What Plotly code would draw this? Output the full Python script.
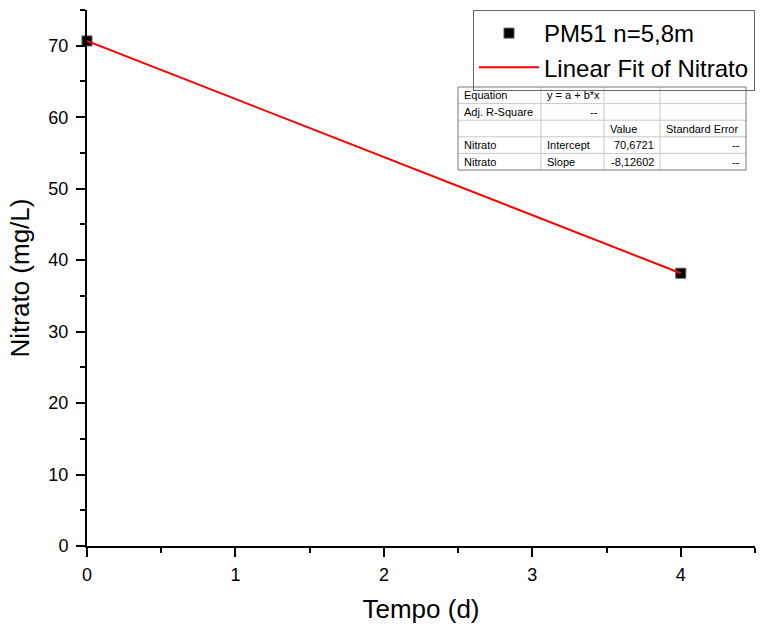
import plotly.graph_objects as go

# Measured nitrate data and linear fit results
tempo = [0, 4]
nitrato = [70.6721, 38.1680]
intercept = 70.6721
slope = -8.12602
x_range = [0, 4.5]
y_range = [0, 75]

series_name = "PM51 n=5,8m"
fit_name = "Linear Fit of Nitrato"

FONT = "Arial, Liberation Sans, sans-serif"

W, H = 761, 636
L, R, T, B = 87, 6, 10, 90
PW, PH = W - L - R, H - T - B


def px(x):
    return (x - L) / PW


def py(y):
    return (H - B - y) / PH


fit_x = list(x_range[:1]) + [tempo[-1]]
fit_y = [intercept + slope * v for v in fit_x]

fig = go.Figure()
fig.add_trace(go.Scatter(
    x=tempo, y=nitrato, mode="markers", name=series_name,
    marker=dict(symbol="square", size=10, color="black",
                line=dict(color="#555", width=1)),
    cliponaxis=False,
))
fig.add_trace(go.Scatter(
    x=fit_x, y=fit_y, mode="lines", name=fit_name,
    line=dict(color="red", width=2), cliponaxis=False,
))

axis_common = dict(
    showline=True, linecolor="black", linewidth=2, mirror=False,
    showgrid=False, zeroline=False, ticks="outside", ticklen=9,
    tickwidth=2, tickcolor="black",
    tickfont=dict(family=FONT, size=18, color="black"),
    minor=dict(ticks="outside", ticklen=5, tickwidth=2, tickcolor="black"),
)

fig.update_xaxes(range=x_range, dtick=1, minor_dtick=0.5, ticklabelstandoff=2,
                 title=dict(text="Tempo (d)", font=dict(family=FONT, size=26, color="black"), standoff=16),
                 **axis_common)
fig.update_yaxes(range=y_range, dtick=10, minor_dtick=5, ticklabelstandoff=4,
                 title=dict(text="Nitrato (mg/L)", font=dict(family=FONT, size=26, color="black"), standoff=11),
                 **axis_common)

fig.update_layout(
    width=W, height=H,
    margin=dict(l=L, r=R, t=T, b=B),
    plot_bgcolor="white", paper_bgcolor="white",
    font=dict(family=FONT, color="black"),
    legend=dict(x=1, y=py(10), xanchor="right", yanchor="top",
                bordercolor="#666", borderwidth=1, bgcolor="rgba(255,255,255,0)",
                font=dict(family=FONT, size=24, color="black"),
                tracegroupgap=0, itemwidth=60),
)

# Fit results table
col_x = [458, 541, 604, 660, 746]
row_top, row_h, n_rows = 87, 16.6, 5
rows = [
    ["Equation", "y = a + b*x", "", ""],
    ["Adj. R-Square", "--", "", ""],
    ["", "", "Value", "Standard Error"],
    ["Nitrato", "Intercept", f"{intercept:.4f}".replace(".", ","), "--"],
    ["Nitrato", "Slope", f"{slope:.5f}".replace(".", ","), "--"],
]
right_cells = {(1, 1), (3, 2), (3, 3), (4, 2), (4, 3)}

shapes = []
table_bottom = row_top + row_h * n_rows
for i in range(1, n_rows):
    yy = row_top + row_h * i
    shapes.append(dict(type="line", xref="paper", yref="paper",
                       x0=px(col_x[0]), x1=px(col_x[-1]), y0=py(yy), y1=py(yy),
                       line=dict(color="#c8c8c8", width=1)))
for c in col_x[1:-1]:
    shapes.append(dict(type="line", xref="paper", yref="paper",
                       x0=px(c), x1=px(c), y0=py(row_top), y1=py(table_bottom),
                       line=dict(color="#c8c8c8", width=1)))
shapes.append(dict(type="rect", xref="paper", yref="paper",
                   x0=px(col_x[0]), x1=px(col_x[-1]), y0=py(row_top), y1=py(table_bottom),
                   line=dict(color="#777", width=1), fillcolor="rgba(0,0,0,0)"))

annotations = []
for r, row in enumerate(rows):
    yc = row_top + row_h * (r + 0.5)
    for c, txt in enumerate(row):
        if not txt:
            continue
        if (r, c) in right_cells:
            xa, anchor = px(col_x[c + 1] - 4), "right"
        else:
            xa, anchor = px(col_x[c] + 4), "left"
        annotations.append(dict(x=xa, y=py(yc), xref="paper", yref="paper",
                                text=txt, showarrow=False,
                                xanchor=anchor, yanchor="middle",
                                font=dict(family=FONT, size=11, color="black")))

fig.update_layout(shapes=shapes, annotations=annotations)

fig.write_html("out.html")
